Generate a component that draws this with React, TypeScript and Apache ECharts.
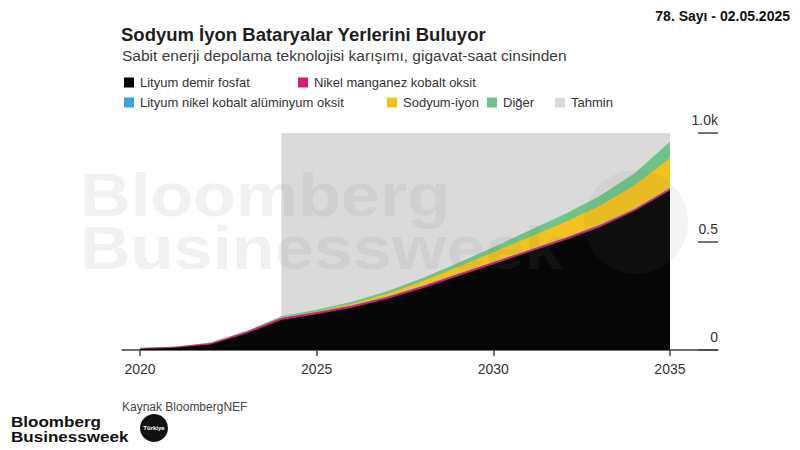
import React, { useEffect, useRef } from "react";
import * as echarts from "echarts";

const years = [2020, 2021, 2022, 2023, 2024, 2025, 2026, 2027, 2028, 2029, 2030, 2031, 2032, 2033, 2034, 2035];
const lityumDemirFosfat = [5, 10, 25, 75, 138, 165, 195, 235, 285, 340, 395, 450, 505, 565, 640, 735];
const nikelManganezKobalt = [3, 4, 6, 8, 9, 9, 9, 9, 9, 9, 9, 9, 9, 9, 9, 9];
const lityumNikelKobaltAluminyum = [1, 1, 1, 1, 2, 2, 2, 2, 2, 2, 2, 2, 2, 2, 2, 2];
const sodyumIyon = [0, 0, 0, 0, 1, 3, 7, 13, 21, 31, 44, 58, 72, 88, 108, 138];
const diger = [1, 1, 2, 3, 5, 7, 9, 12, 15, 19, 24, 30, 36, 44, 55, 76];
const tahminAraligi = [2024, 2035];
const xTickYears = [2020, 2025, 2030, 2035];

const FONT = '"Liberation Sans", Arial, sans-serif';

const layers = [
  { name: "Lityum demir fosfat", values: lityumDemirFosfat, color: "#060606" },
  { name: "Nikel manganez kobalt oksit", values: nikelManganezKobalt, color: "#d81b72" },
  { name: "Lityum nikel kobalt alüminyum oksit", values: lityumNikelKobaltAluminyum, color: "#3ba3d9" },
  { name: "Sodyum-iyon", values: sodyumIyon, color: "#f3c21c" },
  { name: "Diğer", values: diger, color: "#6dc48a" },
];

function txt(text: string, x: number, y: number, font: string, fill: string, align = "left", extra: any = {}) {
  return {
    type: "text",
    x,
    y,
    z: 100,
    silent: true,
    ...extra,
    style: {
      text,
      x: 0,
      y: 0,
      font,
      fill,
      align,
      textAlign: align,
      verticalAlign: "middle",
      textVerticalAlign: "middle",
    },
  };
}

export default function App() {
  const ref = useRef<HTMLDivElement>(null);
  useEffect(() => {
    if (!ref.current) return;
    const chart = echarts.init(ref.current, null, { renderer: "svg" });

    // cumulative tops of each layer
    const cumulative: number[][] = [];
    layers.forEach((l, i) => {
      cumulative.push(l.values.map((v, j) => v + (i > 0 ? cumulative[i - 1][j] : 0)));
    });

    const areaSeries = layers
      .map((l, i) => ({
        name: l.name,
        type: "line",
        data: years.map((y, j) => [y, cumulative[i][j]]),
        symbol: "none",
        showSymbol: false,
        lineStyle: { width: 0 },
        itemStyle: { color: l.color },
        areaStyle: { color: l.color, opacity: 1 },
        z: 3,
        silent: true,
      }))
      .reverse();

    const legendPos: Record<string, [number, number]> = {
      "Lityum demir fosfat": [124, 82],
      "Nikel manganez kobalt oksit": [298, 82],
      "Lityum nikel kobalt alüminyum oksit": [124, 102],
      "Sodyum-iyon": [387, 102],
      "Diğer": [487, 102],
      "Tahmin": [555, 102],
    };

    const legends = Object.keys(legendPos).map((name) => ({
      data: [name],
      left: legendPos[name][0],
      top: legendPos[name][1] - 6,
      padding: 0,
      itemWidth: 10,
      itemHeight: 10,
      itemGap: 0,
      icon: "rect",
      selectedMode: false,
      textStyle: { fontSize: 13, color: "#333", fontFamily: FONT, padding: [0, 0, 0, 1] },
    }));

    const wm = "rgba(120,120,120,0.1)";

    chart.setOption({
      animation: false,
      backgroundColor: "#ffffff",
      textStyle: { fontFamily: FONT },
      legend: legends,
      grid: { left: 122, right: 82, top: 133, bottom: 100 },
      xAxis: {
        type: "value",
        min: 2019.49,
        max: 2036.36,
        axisLine: { show: true, lineStyle: { color: "#444", width: 1.5 } },
        axisTick: { show: true, customValues: xTickYears, length: 6, lineStyle: { color: "#444", width: 1.5 } },
        axisLabel: {
          customValues: xTickYears,
          formatter: (v: number) => String(v),
          fontSize: 14,
          color: "#333",
          margin: 12,
          fontFamily: FONT,
        },
        splitLine: { show: false },
      },
      yAxis: {
        type: "value",
        position: "right",
        min: 0,
        max: 1000,
        interval: 500,
        axisLine: { show: false },
        axisTick: { show: true, inside: true, length: 20, lineStyle: { color: "#444", width: 1.5 } },
        axisLabel: {
          inside: true,
          margin: 0,
          verticalAlign: "bottom",
          padding: [0, 0, 6, 0],
          fontSize: 14,
          color: "#333",
          fontFamily: FONT,
          formatter: (v: number) => (v === 0 ? "0" : v === 1000 ? "1.0k" : (v / 1000).toFixed(1)),
        },
        splitLine: { show: false },
      },
      series: [
        {
          name: "Tahmin",
          type: "line",
          data: [],
          z: 1,
          itemStyle: { color: "#dadada" },
          lineStyle: { color: "#dadada" },
          markArea: {
            silent: true,
            itemStyle: { color: "#dadada" },
            data: [[{ xAxis: tahminAraligi[0], yAxis: 0 }, { xAxis: tahminAraligi[1], yAxis: 1000 }]],
          },
        },
        ...areaSeries,
      ],
      graphic: [
        // watermark
        txt("Bloomberg", 80, 195, `bold 61px ${FONT}`, wm, "left", { scaleX: 1.15 }),
        txt("Businessweek", 80, 247.5, `bold 61px ${FONT}`, wm, "left", { scaleX: 1.15 }),
        {
          type: "circle",
          z: 100,
          silent: true,
          shape: { cx: 636, cy: 222, r: 52 },
          style: { fill: "rgba(120,120,120,0.08)" },
        },
        // titles
        txt("Sodyum İyon Bataryalar Yerlerini Buluyor", 121, 34, `bold 18.5px ${FONT}`, "#1e1e1e"),
        txt("Sabit enerji depolama teknolojisi karışımı, gigavat-saat cinsinden", 122, 55.5, `15.5px ${FONT}`, "#3a3a3a"),
        txt("78. Sayı - 02.05.2025", 790, 15.5, `bold 14px ${FONT}`, "#111", "right"),
        txt("Kaynak BloombergNEF", 122, 407, `12px ${FONT}`, "#444"),
        // logo
        txt("Bloomberg", 11, 421, `bold 15.5px ${FONT}`, "#111", "left", { scaleX: 1.1 }),
        txt("Businessweek", 11, 436.5, `bold 15.5px ${FONT}`, "#111", "left", { scaleX: 1.1 }),
        {
          type: "circle",
          z: 100,
          silent: true,
          shape: { cx: 154, cy: 428, r: 14 },
          style: { fill: "#111" },
        },
        txt("Türkiye", 154, 428, `bold 6px ${FONT}`, "#fff", "center"),
      ],
    });
    return () => chart.dispose();
  }, []);

  return (
    <div
      ref={ref}
      style={{ position: "fixed", left: 0, top: 0, width: 800, height: 450, background: "#fff" }}
    />
  );
}
